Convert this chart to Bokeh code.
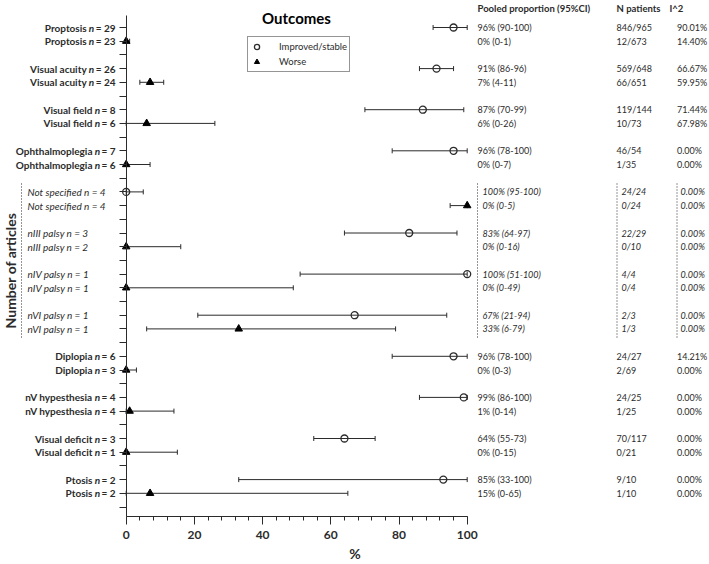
import math
from bokeh.plotting import figure
from bokeh.models import (ColumnDataSource, Range1d, LinearAxis, FixedTicker,
                          Whisker, TeeHead, Legend, LegendItem)
from bokeh.core.properties import value
from bokeh.embed import file_html
from bokeh.resources import INLINE

# ---------------- data ----------------
groups = ["Proptosis", "Visual acuity", "Visual field", "Ophthalmoplegia",
          "Not specified", "nIII palsy", "nIV palsy", "nVI palsy",
          "Diplopia", "nV hypesthesia", "Visual deficit", "Ptosis"]
n_improved = [29, 26, 8, 7, 4, 3, 1, 1, 6, 4, 3, 2]
n_worse = [23, 24, 6, 6, 4, 2, 1, 1, 3, 4, 1, 2]
italic_group = [False, False, False, False, True, True, True, True,
                False, False, False, False]
italic_labels = ["Not specified n = 4", "Not specified n = 4",
                 "nIII palsy  n = 3", "nIII  palsy n = 2",
                 "nIV palsy  n = 1", "nIV  palsy n = 1",
                 "nVI palsy  n = 1", "nVI  palsy n = 1"]

# plotted estimates (as drawn in the figure)
imp_est = [96, 91, 87, 96, 0, 83, 100, 67, 96, 99, 64, 93]
imp_lo = [90, 86, 70, 78, 0, 64, 51, 21, 78, 86, 55, 33]
imp_hi = [100, 96, 99, 100, 5, 97, 100, 94, 100, 100, 73, 100]
wor_est = [0, 7, 6, 0, 100, 0, 0, 33, 0, 1, 0, 7]
wor_lo = [0, 4, 0, 0, 95, 0, 0, 6, 0, 0, 0, 0]
wor_hi = [1, 11, 26, 7, 100, 16, 49, 79, 3, 14, 15, 65]

pooled_text = ["96% (90-100)", "0% (0-1)", "91% (86-96)", "7% (4-11)",
               "87% (70-99)", "6% (0-26)", "96% (78-100)", "0% (0-7)",
               "100% (95-100)", "0% (0-5)", "83% (64-97)", "0% (0-16)",
               "100% (51-100)", "0% (0-49)", "67% (21-94)", "33% (6-79)",
               "96% (78-100)", "0% (0-3)", "99% (86-100)", "1% (0-14)",
               "64% (55-73)", "0% (0-15)", "85% (33-100)", "15% (0-65)"]
patients_text = ["846/965", "12/673", "569/648", "66/651", "119/144", "10/73",
                 "46/54", "1/35", "24/24", "0/24", "22/29", "0/10",
                 "4/4", "0/4", "2/3", "1/3", "24/27", "2/69",
                 "24/25", "1/25", "70/117", "0/21", "9/10", "1/10"]
i2_text = ["90.01%", "14.40%", "66.67%", "59.95%", "71.44%", "67.98%",
           "0.00%", "0.00%", "0.00%", "0.00%", "0.00%", "0.00%",
           "0.00%", "0.00%", "0.00%", "0.00%", "14.21%", "0.00%",
           "0.00%", "0.00%", "0.00%", "0.00%", "0.00%", "0.00%"]
headers = ["Pooled proportion (95%CI)", "N patients", "I^2"]
x_ticks = [0, 20, 40, 60, 80, 100]

# ---------------- layout ----------------
W, H = 709, 564
FRAME_BOTTOM = 516          # page y of the x axis
X0_PX, PX_X = 125.7, 3.41   # page x of value 0, px per %
Y0_PX, PX_Y = 27.0, 13.7    # page y of row 0, px per row slot


def px2x(px):
    return (px - X0_PX) / PX_X


def py2y(py):
    return (py - Y0_PX) / PX_Y


INK = "#2b2b2b"
FONT = "Lato"

p = figure(width=W, height=H,
           x_range=Range1d(px2x(0), px2x(W)),
           y_range=Range1d(py2y(FRAME_BOTTOM), py2y(0)),
           x_axis_type=None, y_axis_type=None,
           output_backend="svg", toolbar_location=None,
           min_border_left=0, min_border_right=0, min_border_top=0,
           min_border_bottom=H - FRAME_BOTTOM)
p.outline_line_color = None
p.background_fill_color = "white"
p.border_fill_color = "white"

xaxis = LinearAxis(ticker=FixedTicker(ticks=x_ticks, minor_ticks=list(range(0, 101, 4))),
                   bounds=(0, 100), axis_label="%")
xaxis.axis_line_color = INK
xaxis.major_tick_line_color = INK
xaxis.minor_tick_line_color = INK
xaxis.major_tick_in = 0
xaxis.major_tick_out = 8
xaxis.minor_tick_in = 0
xaxis.minor_tick_out = 4
xaxis.major_label_text_font = FONT
xaxis.major_label_text_font_style = "bold"
xaxis.major_label_text_font_size = "12px"
xaxis.major_label_text_color = INK
xaxis.major_label_standoff = 6
xaxis.axis_label_text_font = FONT
xaxis.axis_label_text_font_style = "bold"
xaxis.axis_label_text_font_size = "14px"
xaxis.axis_label_text_color = INK
xaxis.axis_label_standoff = 3
p.add_layout(xaxis, "below")

n_slots = 36
yaxis = LinearAxis(ticker=FixedTicker(ticks=list(range(n_slots)), minor_ticks=[]),
                   bounds=(py2y(15), py2y(FRAME_BOTTOM)),
                   major_label_overrides={i: "" for i in range(n_slots)},
                   fixed_location=0)
yaxis.axis_line_color = INK
yaxis.major_tick_line_color = INK
yaxis.major_tick_in = 0
yaxis.major_tick_out = 7
yaxis.minor_tick_line_color = None
yaxis.major_label_text_font_size = "1px"
p.add_layout(yaxis, "left")

# row positions
y_imp = [3 * g for g in range(len(groups))]
y_wor = [3 * g + 1 for g in range(len(groups))]

src_imp = ColumnDataSource(dict(y=y_imp, est=imp_est, lo=imp_lo, hi=imp_hi))
src_wor = ColumnDataSource(dict(y=y_wor, est=wor_est, lo=wor_lo, hi=wor_hi))

for src in (src_imp, src_wor):
    w = Whisker(base="y", lower="lo", upper="hi", dimension="width", source=src,
                line_color=INK, line_width=1,
                upper_head=TeeHead(size=5, line_color=INK, line_width=1),
                lower_head=TeeHead(size=5, line_color=INK, line_width=1))
    p.add_layout(w)

r_imp = p.scatter("est", "y", source=src_imp, marker="circle", size=7,
                  fill_color="white", fill_alpha=0.0, line_color=INK, line_width=1.3)
r_wor = p.scatter("est", "y", source=src_wor, marker="triangle", size=7.5,
                  fill_color="black", line_color="black", line_width=1)

legend = Legend(items=[LegendItem(label="Improved/stable", renderers=[r_imp]),
                       LegendItem(label="Worse", renderers=[r_wor])],
                location=(247, FRAME_BOTTOM - 72),
                border_line_color=INK, border_line_width=1,
                background_fill_color="white", background_fill_alpha=1,
                padding=2, margin=0, spacing=0,
                glyph_width=13, glyph_height=15, label_height=15,
                label_standoff=16,
                label_text_font=FONT, label_text_font_size="9.5px",
                label_text_color=INK)
p.add_layout(legend)

# ---------------- left labels ----------------
fs = 10.0
X_END = px2x(115)
sp = 0.193 * fs
w_n = 0.565 * fs
pre_x, pre_t, n_x, suf_x, suf_t, lab_y = [], [], [], [], [], []
for g, name in enumerate(groups):
    if italic_group[g]:
        continue
    for yy, nn in ((y_imp[g], n_improved[g]), (y_wor[g], n_worse[g])):
        suf = f"= {nn}"
        w_suf = (0.58 + 0.193 + 0.58 * len(str(nn))) * fs
        suf_x.append(X_END)
        suf_t.append(suf)
        n_x.append(X_END - (w_suf + sp) / PX_X)
        pre_x.append(X_END - (w_suf + sp + w_n + sp) / PX_X)
        pre_t.append(name)
        lab_y.append(yy)

lab_src = ColumnDataSource(dict(px=pre_x, pt=pre_t, nx=n_x, nt=["n"] * len(n_x),
                                sx=suf_x, st=suf_t, y=lab_y))
common = dict(source=lab_src, text_align="right", text_baseline="middle",
              text_font=value(FONT), text_font_size=f"{fs}px", text_color=INK)
p.text("px", "y", text="pt", text_font_style="bold", **common)
p.text("nx", "y", text="nt", text_font_style="bold italic", **common)
p.text("sx", "y", text="st", text_font_style="bold", **common)

it_y = []
for g in range(len(groups)):
    if italic_group[g]:
        it_y += [y_imp[g], y_wor[g]]
it_src = ColumnDataSource(dict(x=[px2x(27)] * len(it_y), y=it_y, t=italic_labels))
p.text("x", "y", text="t", source=it_src, text_align="left", text_baseline="middle",
       text_font=value(FONT), text_font_size="10px", text_font_style="italic",
       text_color=INK)

side_src = ColumnDataSource(dict(x=[px2x(10)], y=[py2y(270)], t=["Number of articles"]))
p.text("x", "y", text="t", source=side_src, angle=math.pi / 2, text_align="center",
       text_baseline="middle", text_font=value(FONT), text_font_size="14px",
       text_font_style="bold", text_color=INK)

# dotted separators
y_dot0 = py2y(183)
y_dot1 = py2y(338)
dot_src = ColumnDataSource(dict(x=[px2x(21), px2x(477), px2x(616.5), px2x(676.5)],
                                y0=[y_dot0] * 4, y1=[y_dot1] * 4))
p.segment("x", "y0", "x", "y1", source=dot_src, line_color=INK, line_width=1,
          line_dash="1 2")

# ---------------- right columns ----------------
rows_y, rows_it = [], []
for g in range(len(groups)):
    rows_y += [y_imp[g], y_wor[g]]
    rows_it += [italic_group[g]] * 2

col_x_norm = [px2x(477), px2x(616), px2x(676.5)]
col_x_ital = [px2x(482), px2x(621), px2x(680)]
for texts, xn, xi in zip((pooled_text, patients_text, i2_text), col_x_norm, col_x_ital):
    for ital in (False, True):
        idx = [k for k in range(len(rows_y)) if rows_it[k] == ital]
        s = ColumnDataSource(dict(x=[xi if ital else xn] * len(idx),
                                  y=[rows_y[k] for k in idx],
                                  t=[texts[k] for k in idx]))
        p.text("x", "y", text="t", source=s, text_align="left", text_baseline="middle",
               text_font=value(FONT), text_font_size="9px",
               text_font_style="italic" if ital else "normal", text_color=INK)

hdr_src = ColumnDataSource(dict(x=[px2x(477), px2x(616), px2x(669)],
                                y=[py2y(8)] * 3, t=headers))
p.text("x", "y", text="t", source=hdr_src, text_align="left", text_baseline="middle",
       text_font=value(FONT), text_font_size="9.5px", text_font_style="bold", text_color=INK)

title_src = ColumnDataSource(dict(x=[px2x(296)], y=[py2y(17)], t=["Outcomes"]))
p.text("x", "y", text="t", source=title_src, text_align="center", text_baseline="middle",
       text_font=value(FONT), text_font_size="15px", text_font_style="bold", text_color="black")

open("out.html", "w").write(file_html(p, INLINE))
